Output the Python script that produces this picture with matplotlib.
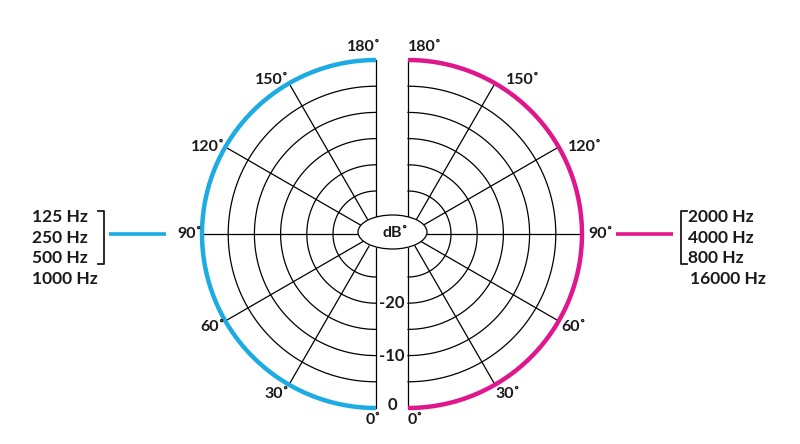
import numpy as np
import matplotlib
matplotlib.use("Agg")
import matplotlib.pyplot as plt
from matplotlib.patches import Ellipse

# ---- data ----
angles = [0, 30, 60, 90, 120, 150, 180]
angle_labels = ["0˚", "30˚", "60˚", "90˚", "120˚", "150˚", "180˚"]
ring_db = [0, -5, -10, -15, -20, -25]
db_labels = [0, -10, -20]
left_freqs = ["125 Hz", "250 Hz", "500 Hz", "1000 Hz"]
right_freqs = ["2000 Hz", "4000 Hz", "800 Hz", "16000 Hz"]
left_color = "#1cabe3"
right_color = "#e0168c"

plt.rcParams["font.family"] = ["Lato", "DejaVu Sans"]
W = "bold"
TXT = "#1a1a1a"

# ---- geometry (pixel space) ----
CY = 234
LEFT_CX, RIGHT_CX = 376, 408
R0 = 174
PX_PER_DB = 5.24
HOLE_R = 14


def r_of(db):
    return R0 + PX_PER_DB * db


def pt(cx, side, ang, r):
    a = np.radians(ang)
    return cx + side * r * np.sin(a), CY + r * np.cos(a)


fig = plt.figure(figsize=(8, 4.44), dpi=100)
ax = fig.add_axes([0, 0, 1, 1])
ax.set_xlim(0, 800)
ax.set_ylim(444, 0)
ax.axis("off")

th = np.linspace(0, 180, 361)
for cx, side, col in [(LEFT_CX, -1, left_color), (RIGHT_CX, 1, right_color)]:
    for db in ring_db[1:]:
        x, y = pt(cx, side, th, r_of(db))
        ax.plot(x, y, color="black", lw=0.9, zorder=2)
    for ang in angles:
        x0, y0 = pt(cx, side, ang, HOLE_R)
        x1, y1 = pt(cx, side, ang, R0)
        ax.plot([x0, x1], [y0, y1], color="black", lw=0.9, zorder=2)
    x, y = pt(cx, side, th, r_of(ring_db[0]))
    ax.plot(x, y, color=col, lw=3.2, zorder=3, solid_capstyle="butt")

    for ang, lab in zip(angles, angle_labels):
        c = np.cos(np.radians(ang))
        if ang in (0, 180):
            y = CY + R0 + 12 if ang == 0 else CY - R0 - 13
            x = cx + (5 if side < 0 else 0)
            ax.text(x, y, lab, ha="right" if side < 0 else "left", va="center",
                    fontsize=11.5, fontweight=W, color=TXT)
            continue
        px, py = pt(cx, side, ang, R0)
        dy = 11 * max(0.0, c) - (3 if c < -0.8 else 0)
        if side < 0:
            ax.text(px, py + dy, lab, ha="right", va="center",
                    fontsize=11.5, fontweight=W, color=TXT)
        else:
            ax.text(px + 6 - 6 * c, py + dy, lab, ha="left", va="center",
                    fontsize=11.5, fontweight=W, color=TXT)

ax.add_patch(Ellipse(((LEFT_CX + RIGHT_CX) / 2 + 0.5, CY - 2), 69, 34,
                     facecolor="white", edgecolor="black", lw=0.9, zorder=4))
ax.text((LEFT_CX + RIGHT_CX) / 2 + 3, CY - 1, "dB˚", ha="center", va="center",
        fontsize=11.5, fontweight=W, color=TXT, zorder=5)

for db in db_labels:
    ax.text((LEFT_CX + RIGHT_CX) / 2, CY + r_of(db) - (3 if db == 0 else 0),
            str(db) if db == 0 else f"-{abs(db)}", ha="center", va="center",
            fontsize=12, fontweight=W, color=TXT)

line_gap = 20.5
for i, f in enumerate(left_freqs):
    ax.text(32, CY - 17 + i * line_gap, f, ha="left", va="center",
            fontsize=12.5, fontweight=W, color=TXT)
ax.plot([98, 104, 104, 98], [211, 211, 264, 264], color=TXT, lw=1.3)
ax.plot([109, 166], [CY, CY], color=left_color, lw=2.6, solid_capstyle="butt")

for i, f in enumerate(right_freqs):
    ax.text(688 + (2 if i == 3 else 0), CY - 17 + i * line_gap, f, ha="left",
            va="center", fontsize=12.5, fontweight=W, color=TXT)
ax.plot([687, 681, 681, 687], [211, 211, 264, 264], color=TXT, lw=1.3)
ax.plot([616, 673], [CY, CY], color=right_color, lw=2.6, solid_capstyle="butt")

fig.savefig("out.png", dpi=100)
